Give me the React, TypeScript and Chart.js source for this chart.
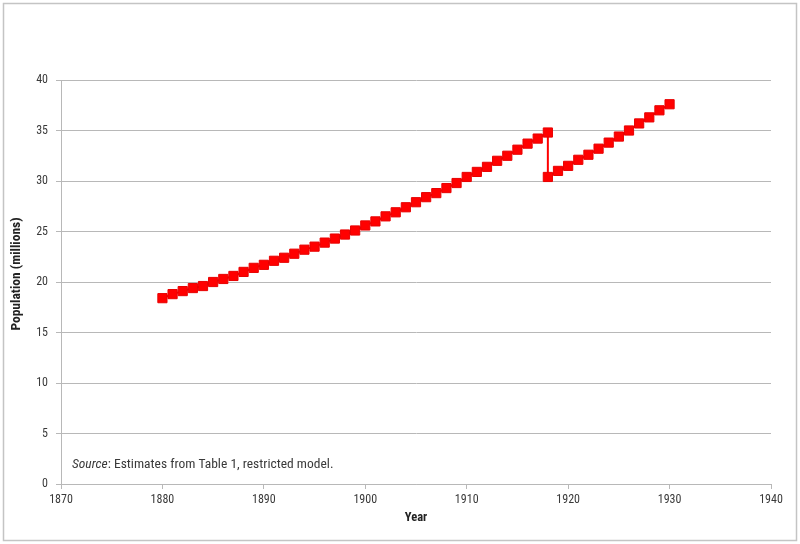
import React, { useEffect, useRef } from "react";
import { Chart, registerables } from "chart.js";

Chart.register(...registerables);

const years: number[] = [
  1880, 1881, 1882, 1883, 1884, 1885, 1886, 1887, 1888, 1889,
  1890, 1891, 1892, 1893, 1894, 1895, 1896, 1897, 1898, 1899,
  1900, 1901, 1902, 1903, 1904, 1905, 1906, 1907, 1908, 1909,
  1910, 1911, 1912, 1913, 1914, 1915, 1916, 1917, 1918, 1918,
  1919, 1920, 1921, 1922, 1923, 1924, 1925, 1926, 1927, 1928,
  1929, 1930,
];

const population: number[] = [
  18.4, 18.8, 19.1, 19.4, 19.6, 20.0, 20.3, 20.6, 21.0, 21.4,
  21.7, 22.1, 22.4, 22.8, 23.2, 23.5, 23.9, 24.3, 24.7, 25.1,
  25.6, 26.0, 26.5, 26.9, 27.4, 27.9, 28.4, 28.8, 29.3, 29.8,
  30.4, 30.9, 31.4, 32.0, 32.5, 33.1, 33.7, 34.2, 34.8, 30.4,
  31.0, 31.5, 32.1, 32.6, 33.2, 33.8, 34.4, 35.0, 35.7, 36.3,
  37.0, 37.6,
];

const xTickMin = 1870;
const xTickMax = 1940;
const xTickStep = 10;
const yTickMin = 0;
const yTickMax = 40;
const yTickStep = 5;

const xTitle = "Year";
const yTitle = "Population (millions)";
const sourceItalic = "Source";
const sourceRest = ": Estimates from Table 1, restricted model.";

const FONT = '"Liberation Sans Narrow", "Arial Narrow", "Roboto Condensed", "Liberation Sans", sans-serif';
const TEXT = "#3a3a3a";
const GRID = "#b8b8b8";

export default function App() {
  const ref = useRef<HTMLCanvasElement | null>(null);

  useEffect(() => {
    if (!ref.current) return;
    const framePlugin = {
      id: "frame",
      beforeDraw(chart: any) {
        const ctx = chart.ctx;
        ctx.save();
        ctx.fillStyle = "#ffffff";
        ctx.fillRect(0, 0, chart.width, chart.height);
        ctx.strokeStyle = "#c4c4c4";
        ctx.lineWidth = 1.5;
        ctx.strokeRect(3.5, 3.5, chart.width - 7, chart.height - 7);
        ctx.restore();
      },
      afterDraw(chart: any) {
        const ctx = chart.ctx;
        const area = chart.chartArea;
        ctx.save();
        ctx.fillStyle = TEXT;
        ctx.textBaseline = "middle";
        ctx.textAlign = "left";
        const x = area.left + 11;
        const y = area.bottom - 19;
        ctx.font = `italic 13.5px ${FONT}`;
        ctx.fillText(sourceItalic, x, y);
        const w = ctx.measureText(sourceItalic).width;
        ctx.font = `13.5px ${FONT}`;
        ctx.fillText(sourceRest, x + w, y);
        // y-axis title
        ctx.translate(17, (area.top + area.bottom) / 2 - 8);
        ctx.rotate(-Math.PI / 2);
        ctx.textAlign = "center";
        ctx.fillStyle = "#222";
        ctx.font = `bold 13.5px ${FONT}`;
        ctx.fillText(yTitle, 0, 0);
        ctx.restore();
      },
    };

    const chart = new Chart(ref.current, {
      type: "scatter",
      data: {
        datasets: [
          {
            data: years.map((yr, i) => ({ x: yr, y: population[i] })),
            showLine: true,
            borderColor: "#ff0000",
            borderWidth: 2,
            pointStyle: "rect",
            pointRadius: 6.5,
            pointBackgroundColor: "#ff0000",
            pointBorderColor: "#e80000",
            pointBorderWidth: 1,
          },
        ],
      },
      options: {
        animation: false,
        responsive: true,
        maintainAspectRatio: false,
        layout: { padding: { top: 80, right: 29, bottom: 16, left: 0 } },
        plugins: { legend: { display: false }, tooltip: { enabled: false } },
        scales: {
          x: {
            type: "linear",
            min: xTickMin,
            max: xTickMax,
            afterFit: (s: any) => {
              s.height = 44;
            },
            ticks: {
              stepSize: xTickStep,
              color: TEXT,
              padding: 4,
              font: { family: FONT, size: 12 },
              callback: (v: any) => String(v),
              maxRotation: 0,
            },
            grid: {
              drawOnChartArea: false,
              drawTicks: true,
              tickLength: 5,
              color: GRID,
              tickColor: GRID,
            },
            border: { color: GRID, width: 1 },
            title: {
              display: true,
              text: xTitle,
              color: "#222",
              font: { family: FONT, size: 12.5, weight: "bold" },
              padding: { top: 0, bottom: 3 },
            },
          },
          y: {
            min: yTickMin,
            max: yTickMax,
            afterFit: (s: any) => {
              s.width = 61;
            },
            ticks: {
              stepSize: yTickStep,
              color: TEXT,
              padding: 8,
              font: { family: FONT, size: 12 },
            },
            grid: {
              drawOnChartArea: true,
              drawTicks: true,
              tickLength: 5,
              color: GRID,
              tickColor: GRID,
            },
            border: { color: GRID, width: 1 },
            title: { display: false },
          },
        },
      },
      plugins: [framePlugin],
    } as any);
    return () => chart.destroy();
  }, []);

  return (
    <div style={{ position: "fixed", left: 0, top: 0, width: 800, height: 544, background: "#fff" }}>
      <canvas ref={ref} />
    </div>
  );
}
